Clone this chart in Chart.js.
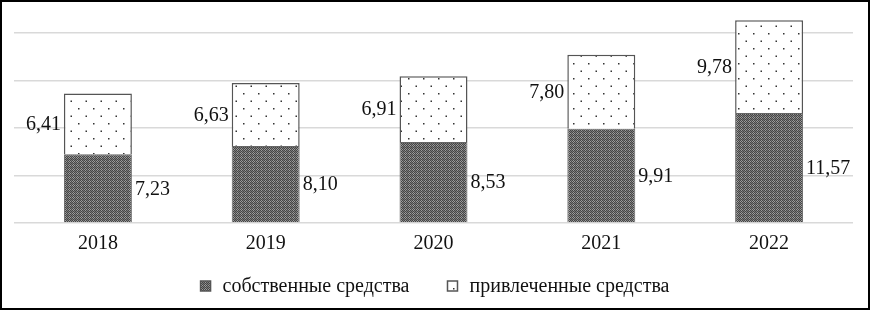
<!DOCTYPE html>
<html>
<head>
<meta charset="utf-8">
<script src="https://cdn.jsdelivr.net/npm/chart.js@4.4.1/dist/chart.umd.min.js"></script>
<style>
  html, body { margin: 0; padding: 0; background: #fff; }
  #wrap { width: 870px; height: 310px; position: relative; }
</style>
</head>
<body>
<div id="wrap"><canvas id="chart" width="870" height="310"></canvas></div>
<script>
const years = ['2018', '2019', '2020', '2021', '2022'];
const ownFunds = [7.23, 8.10, 8.53, 9.91, 11.57];
const borrowedFunds = [6.41, 6.63, 6.91, 7.80, 9.78];
const seriesNames = ['собственные средства', 'привлеченные средства'];

// dark checkered fill for own funds
function makeDarkPattern() {
    const c = document.createElement('canvas');
    c.width = 4; c.height = 4;
    const g = c.getContext('2d');
    for (let y = 0; y < 4; y++) {
        for (let x = 0; x < 4; x++) {
            g.fillStyle = (x + y) % 2 === 0 ? '#454545' : '#9c9c9c';
            if ((x + y) % 2 === 1 && (x === 3 || y === 3)) g.fillStyle = '#7a7a7a';
            g.fillRect(x, y, 1, 1);
        }
    }
    return g.createPattern(c, 'repeat');
}

// white fill with sparse staggered dots for borrowed funds
function makeDotPattern() {
    const c = document.createElement('canvas');
    c.width = 15; c.height = 15;
    const g = c.getContext('2d');
    g.fillStyle = '#fff';
    g.fillRect(0, 0, 15, 15);
    g.fillStyle = '#333';
    g.fillRect(3, 3, 1.5, 1.5);
    g.fillRect(10.5, 10.5, 1.5, 1.5);
    return g.createPattern(c, 'repeat');
}

const darkFill = makeDarkPattern();
const dotFill = makeDotPattern();
const fills = [darkFill, dotFill];
const serif = '"Liberation Serif", "DejaVu Serif", serif';

// value labels: own funds right of the bar, borrowed left of the bar
const valueLabels = {
    id: 'valueLabels',
    afterDatasetsDraw(chart) {
        const ctx = chart.ctx;
        ctx.save();
        ctx.font = '20px ' + serif;
        ctx.fillStyle = '#111';
        ctx.textBaseline = 'middle';
        chart.data.datasets.forEach((ds, di) => {
            chart.getDatasetMeta(di).data.forEach((bar, i) => {
                const txt = ds.data[i].toFixed(2).replace('.', ',');
                const y = (bar.y + bar.base) / 2 + 1;
                if (di === 0) {
                    ctx.textAlign = 'left';
                    ctx.fillText(txt, bar.x + bar.width / 2 + 3, y);
                } else {
                    ctx.textAlign = 'right';
                    ctx.fillText(txt, bar.x - bar.width / 2 - 3, y);
                }
            });
        });
        ctx.restore();
    }
};

// legend along the bottom, wider gap between the two items
const bottomLegend = {
    id: 'bottomLegend',
    afterDraw(chart) {
        const ctx = chart.ctx;
        const box = 10, gap = 12, itemGap = 38, cy = 286;
        ctx.save();
        ctx.font = '20px ' + serif;
        const widths = seriesNames.map(s => ctx.measureText(s).width);
        const total = widths.reduce((a, w) => a + box + gap + w, 0) + itemGap;
        let x = chart.width / 2 - total / 2;
        seriesNames.forEach((name, i) => {
            ctx.fillStyle = fills[i];
            ctx.fillRect(x, cy - box / 2, box, box);
            ctx.strokeStyle = '#555';
            ctx.lineWidth = 1.5;
            ctx.strokeRect(x, cy - box / 2, box, box);
            ctx.fillStyle = '#111';
            ctx.textBaseline = 'middle';
            ctx.textAlign = 'left';
            ctx.fillText(name, x + box + gap, cy + 1);
            x += box + gap + widths[i] + itemGap;
        });
        ctx.restore();
    }
};

// black frame round the whole picture
const frame = {
    id: 'frame',
    afterDraw(chart) {
        const ctx = chart.ctx;
        ctx.save();
        ctx.strokeStyle = '#000';
        ctx.lineWidth = 2;
        ctx.strokeRect(1, 1, chart.width - 2, chart.height - 2);
        ctx.restore();
    }
};

new Chart(document.getElementById('chart'), {
    type: 'bar',
    data: {
        labels: years,
        datasets: [{
            label: seriesNames[0],
            data: ownFunds,
            backgroundColor: darkFill,
            borderColor: '#666',
            borderWidth: 1
        }, {
            label: seriesNames[1],
            data: borrowedFunds,
            backgroundColor: dotFill,
            borderColor: '#555',
            borderWidth: 1.5
        }]
    },
    options: {
        responsive: false,
        animation: false,
        layout: { padding: { left: 14, right: 17, top: 14, bottom: 53 } },
        datasets: { bar: { categoryPercentage: 1, barPercentage: 0.405 } },
        scales: {
            x: {
                stacked: true,
                grid: { display: false },
                border: { display: false },
                ticks: { color: '#111', font: { family: serif, size: 20 }, padding: 1 }
            },
            y: {
                stacked: true,
                min: 0,
                max: 22,
                ticks: { display: false, stepSize: 5 },
                border: { display: false },
                grid: {
                    drawTicks: false,
                    lineWidth: 1.5,
                    color: c => (c.tick && c.tick.value % 5 === 0) ? '#d9d9d9' : 'rgba(0,0,0,0)'
                }
            }
        },
        plugins: {
            tooltip: { enabled: false },
            legend: { display: false }
        }
    },
    plugins: [valueLabels, bottomLegend, frame]
});
</script>
</body>
</html>
